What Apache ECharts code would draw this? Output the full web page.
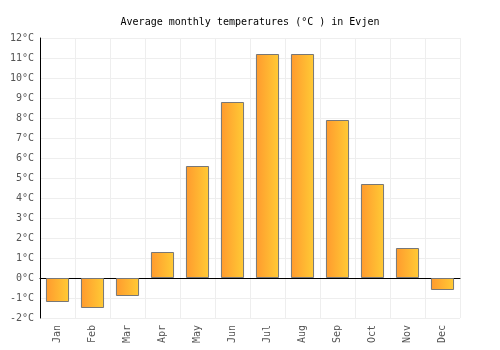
<!DOCTYPE html>
<html>
<head>
<meta charset="utf-8">
<script src="https://cdn.jsdelivr.net/npm/echarts@6/dist/echarts.min.js"></script>
<style>
  html, body { margin: 0; padding: 0; background: #fff; }
  #chart { width: 500px; height: 350px; }
</style>
</head>
<body>
<div id="chart"></div>
<script>
var months = ["Jan", "Feb", "Mar", "Apr", "May", "Jun", "Jul", "Aug", "Sep", "Oct", "Nov", "Dec"];
var temps = [-1.2, -1.5, -0.9, 1.3, 5.6, 8.8, 11.2, 11.2, 7.9, 4.7, 1.5, -0.6];
var yMin = -2;
var yMax = 12;

var chart = echarts.init(document.getElementById("chart"));
var font = "DejaVu Sans Mono";

var options = {
  animation: false,
  title: {
    text: "Average monthly temperatures (°C ) in Evjen",
    left: "center",
    top: 12,
    textStyle: {
      fontFamily: font,
      fontSize: 10,
      fontWeight: "normal",
      color: "#000"
    }
  },
  grid: {
    left: 40,
    right: 40,
    top: 38,
    bottom: 32
  },
  xAxis: {
    type: "category",
    data: months,
    // 竖向网格线
    splitLine: { show: true, lineStyle: { color: "#eeeeee" } },
    axisLine: { onZero: true, lineStyle: { color: "#000" } },
    axisTick: { show: false },
    axisLabel: {
      rotate: 90,
      fontFamily: font,
      fontSize: 10,
      color: "#555",
      margin: 7
    }
  },
  yAxis: {
    type: "value",
    min: yMin,
    max: yMax,
    interval: 1,
    axisLine: { show: true, lineStyle: { color: "#000" } },
    axisTick: { show: false },
    splitLine: { lineStyle: { color: "#eeeeee" } },
    axisLabel: {
      formatter: "{value}°C",
      fontFamily: font,
      fontSize: 10,
      color: "#555",
      margin: 6
    }
  },
  series: [
    {
      type: "bar",
      data: temps,
      barWidth: "66%",
      itemStyle: {
        color: new echarts.graphic.LinearGradient(0, 0, 1, 0, [
          { offset: 0, color: "#ff9a2e" },
          { offset: 1, color: "#ffcb35" }
        ]),
        borderColor: "#777777",
        borderWidth: 1
      }
    }
  ]
};
chart.setOption(options);
</script>
</body>
</html>
